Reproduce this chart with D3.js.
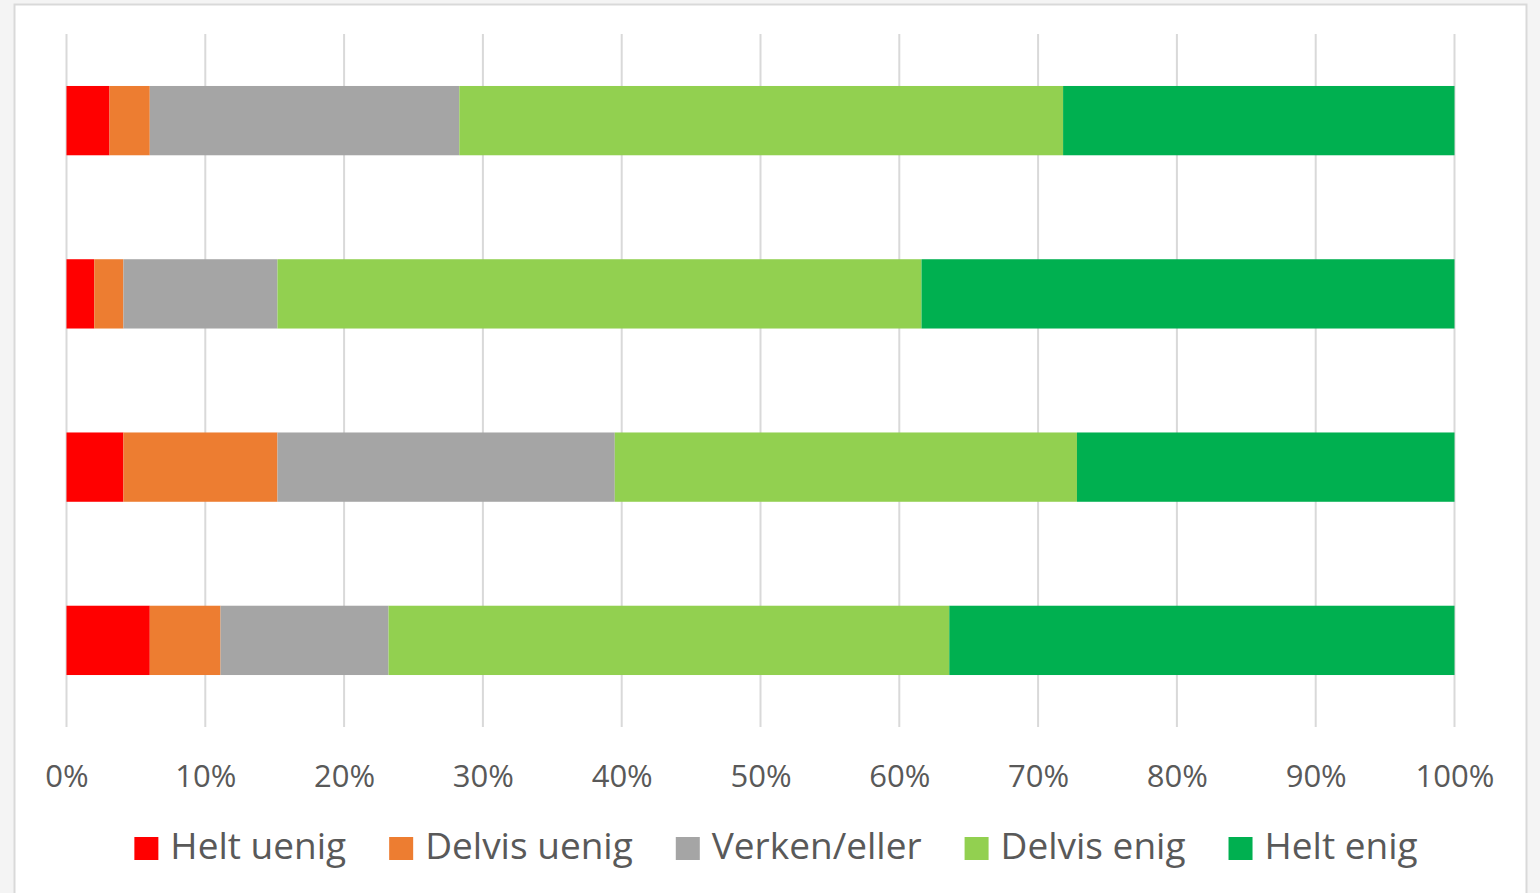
<!DOCTYPE html>
<html>
<head>
<meta charset="utf-8">
<script src="https://cdn.jsdelivr.net/npm/d3@7"></script>
<style>
  html, body { margin: 0; padding: 0; background: #f4f4f4; }
  svg { display: block; }
  text { font-family: "Open Sans", "Liberation Sans", sans-serif; fill: #595959; }
</style>
</head>
<body>
<div id="chart"></div>
<script>
// Stacked 100% horizontal bar chart (Likert answers)

// Data (percent of answers per statement, top to bottom)
const statements = ['Påstand 1', 'Påstand 2', 'Påstand 3', 'Påstand 4'];
const answers = ['Helt uenig', 'Delvis uenig', 'Verken/eller', 'Delvis enig', 'Helt enig'];
const heltUenig   = [3.1, 2.0, 4.1, 6.0];
const delvisUenig = [2.9, 2.1, 11.1, 5.1];
const verkenEller = [22.3, 11.1, 24.3, 12.1];
const delvisEnig  = [43.5, 46.4, 33.3, 40.4];
const heltEnig    = [28.2, 38.4, 27.2, 36.4];
const ticks = [0, 10, 20, 30, 40, 50, 60, 70, 80, 90, 100];
const colors = ['#ff0000', '#ed7d31', '#a5a5a5', '#92d050', '#00b050'];

const width = 1540;
const height = 893;

const series = [heltUenig, delvisUenig, verkenEller, delvisEnig, heltEnig];
const rows = statements.map((s, i) => {
  const r = { name: s };
  answers.forEach((a, j) => r[a] = series[j][i]);
  return r;
});
const stacked = d3.stack().keys(answers)(rows);

const svg = d3.select('#chart')
  .append('svg')
  .attr('width', width)
  .attr('height', height);

// chart area frame
svg.append('rect')
  .attr('x', 14.5).attr('y', 4.5)
  .attr('width', 1512).attr('height', 900)
  .attr('fill', '#fff')
  .attr('stroke', '#d9d9d9')
  .attr('stroke-width', 2);

const x = d3.scaleLinear().domain([0, 100]).range([66.5, 1454.5]);
const y = d3.scaleBand().domain(statements).range([34, 727]).paddingInner(0.6).paddingOuter(0.3);

// gridlines
svg.append('g')
  .selectAll('line')
  .data(ticks)
  .enter().append('line')
  .attr('x1', d => x(d)).attr('x2', d => x(d))
  .attr('y1', 34).attr('y2', 727)
  .attr('stroke', '#d9d9d9')
  .attr('stroke-width', 2);

// bars
svg.append('g')
  .selectAll('g')
  .data(stacked)
  .enter().append('g')
  .attr('fill', (d, i) => colors[i])
  .selectAll('rect')
  .data(d => d)
  .enter().append('rect')
  .attr('x', d => x(d[0]))
  .attr('width', d => x(d[1]) - x(d[0]))
  .attr('y', d => y(d.data.name))
  .attr('height', y.bandwidth());

// x axis labels
const axis = d3.axisBottom(x).tickValues(ticks).tickFormat(d => d + '%').tickSize(0).tickPadding(0);
const gx = svg.append('g')
  .attr('transform', 'translate(0,787)')
  .call(axis);
gx.select('.domain').remove();
gx.selectAll('text')
  .attr('dy', 0)
  .attr('font-size', 31)
  .style('font-family', '"Open Sans", sans-serif')
  .attr('fill', '#595959');

// legend
const legend = svg.append('g').attr('transform', 'translate(0,859)');
const items = legend.selectAll('g')
  .data(answers)
  .enter().append('g');
items.append('rect')
  .attr('y', -22)
  .attr('width', 24).attr('height', 23)
  .attr('fill', (d, i) => colors[i]);
items.append('text')
  .attr('x', 36)
  .attr('font-size', 37)
  .text(d => d);

let widths = [];
items.each(function() {
  widths.push(36 + this.querySelector('text').getComputedTextLength());
});
const gap = 43;
const total = d3.sum(widths) + gap * (widths.length - 1);
let cx = 776 - total / 2;
items.attr('transform', (d, i) => {
  const t = `translate(${cx},0)`;
  cx += widths[i] + gap;
  return t;
});
</script>
</body>
</html>
